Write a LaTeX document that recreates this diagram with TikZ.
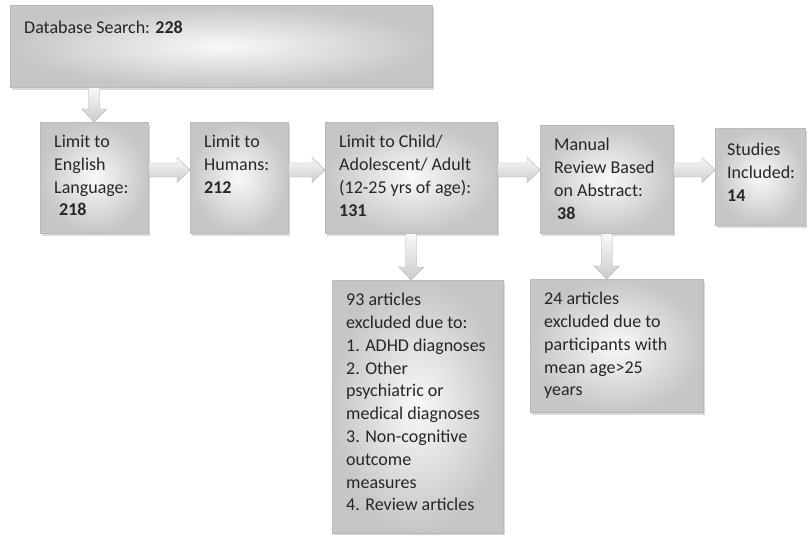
\documentclass[tikz,border=0pt]{standalone}
\usepackage{fontspec}
\setmainfont{Carlito}
\usepackage{tikz}
\usetikzlibrary{calc,shadows}
\definecolor{inkgray}{HTML}{262626}
% text block of fixed size inside a box
\newcommand\boxtext[3]{\parbox[t][#2pt][t]{#1pt}{\raggedright #3}}
% hollow block arrows between boxes
\newcommand\rarrow[2]{\path[flowarrow] ($(#1)+(0,-7)$) -- ($(#2)+(-13,-7)$) -- ($(#2)+(-13,-12.5)$) -- (#2) -- ($(#2)+(-13,12.5)$) -- ($(#2)+(-13,7)$) -- ($(#1)+(0,7)$) -- cycle;}
\newcommand\darrow[2]{\path[flowarrow] ($(#1)+(-5.5,0)$) -- ($(#2)+(-5.5,-13)$) -- ($(#2)+(-12.5,-13)$) -- (#2) -- ($(#2)+(12.5,-13)$) -- ($(#2)+(5.5,-13)$) -- ($(#1)+(5.5,0)$) -- cycle;}

\begin{document}
\begin{tikzpicture}[x=1pt,y=-1pt,
  stage/.style={anchor=north west, draw=gray!55, inner color=gray!5, outer color=gray!45,
    drop shadow={shadow xshift=2pt, shadow yshift=-3pt, fill=gray!60},
    inner xsep=14pt, inner ysep=13pt, text=inkgray,
    font=\fontsize{18}{22.8}\selectfont},
  flowarrow/.style={draw=gray!65, top color=gray!5, bottom color=gray!40}]
 \useasboundingbox (0,0) rectangle (807,535);
 % search and filters
 \node[stage,inner ysep=16pt] (top) at (10,5) {\boxtext{394}{50}{Database Search: \textbf{228}}};
 \node[stage] (b1) at (40,122) {\boxtext{80}{85}{Limit to\\ English\\ Language:\\ \hspace*{5pt}\textbf{218}}};
 \node[stage] (b2) at (190,122) {\boxtext{70}{85}{Limit to\\ Humans:\\ \textbf{212}}};
 \node[stage] (b3) at (325,122) {\boxtext{144}{85}{Limit to Child/\\ Adolescent/ Adult\\ (12-25 yrs of age):\\ \textbf{131}}};
 \node[stage] (b4) at (540,125) {\boxtext{105}{82}{Manual\\ Review Based\\ on Abstract:\\ \hspace*{3pt}\textbf{38}}};
 \node[stage,inner xsep=12pt,inner ysep=15pt] (b5) at (715,128) {\boxtext{66}{67}{Studies\\ Included:\\ \textbf{14}}};
 % exclusions
 \node[stage] (b93) at (332,280) {\boxtext{143}{227}{93 articles\\ excluded due to:\\ 1. ADHD diagnoses\\ 2. Other\\ psychiatric or\\ medical diagnoses\\ 3. Non-cognitive\\ outcome\\ measures\\ 4. Review articles}};
 \node[stage] (b24) at (530,279) {\boxtext{145}{107}{24 articles\\ excluded due to\\ participants with\\ mean age>25\\ years}};
 % arrows
 \coordinate (lvl) at (0,170);
 \darrow{b1.north |- top.south}{b1.north}
 \rarrow{b1.east |- lvl}{b2.west |- lvl}
 \rarrow{b2.east |- lvl}{b3.west |- lvl}
 \rarrow{b3.east |- lvl}{b4.west |- lvl}
 \rarrow{b4.east |- lvl}{b5.west |- lvl}
 \darrow{b3.south}{b3.south |- b93.north}
 \darrow{b4.south}{b4.south |- b24.north}
\end{tikzpicture}
\end{document}
